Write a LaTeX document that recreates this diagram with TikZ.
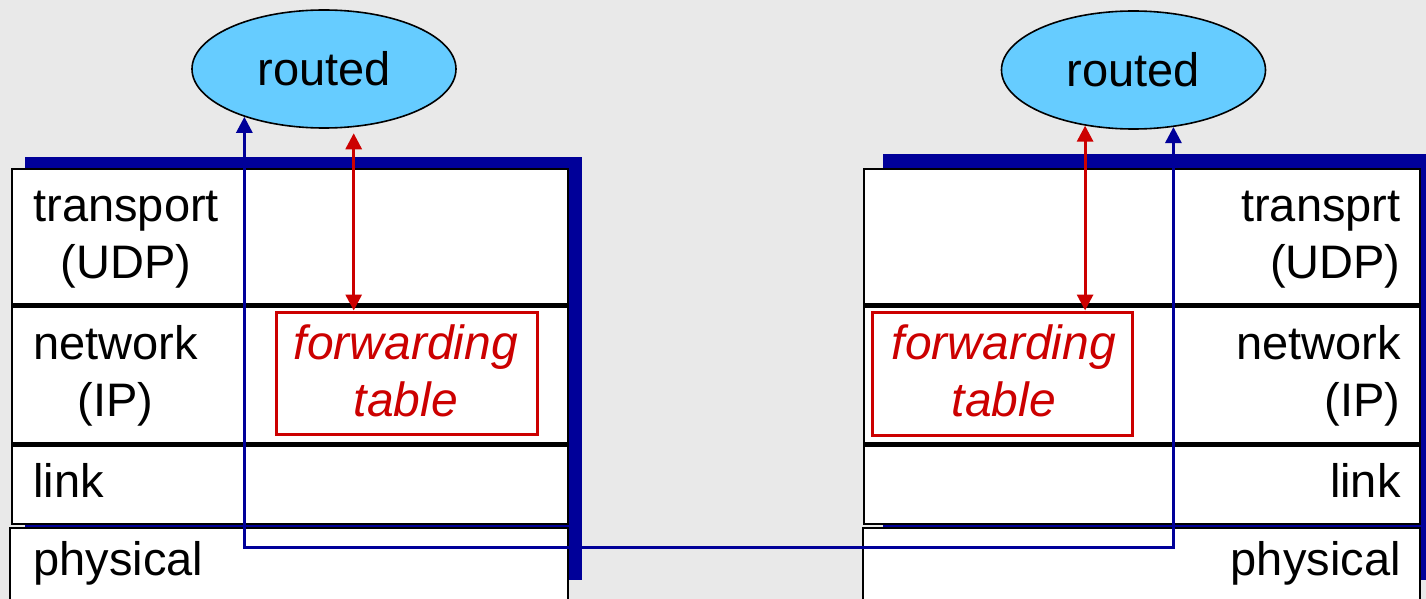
\documentclass[tikz,border=0pt]{standalone}
\usepackage{fontspec}
\setmainfont{Liberation Sans}
\usetikzlibrary{arrows.meta,positioning,shapes.geometric}

\definecolor{navy}{RGB}{0,0,153}
\definecolor{fwdred}{RGB}{204,0,0}
\definecolor{sky}{RGB}{102,204,255}
\definecolor{slide}{RGB}{233,233,233}

\tikzset{
	layer/.style={draw=black, line width=1.2pt, fill=white, minimum width=278pt, inner sep=0pt},
	lbl/.style={inner sep=0pt, font=\fontsize{23.5}{28.5}\selectfont},
	daemon/.style={ellipse, draw=black, line width=0.8pt, fill=sky, minimum width=132pt, minimum height=59pt, inner sep=0pt, font=\fontsize{23.5}{28.5}\selectfont},
	fwdbox/.style={draw=fwdred, line width=1.5pt, fill=white, inner sep=0pt},
	fwdtext/.style={lbl, text=fwdred, align=center, font=\fontsize{24}{28.5}\selectfont\itshape},
	wire/.style={draw=navy, line width=1.5pt, {Triangle[length=8pt,width=8pt]}-{Triangle[length=8pt,width=8pt]}},
	ctl/.style={draw=fwdred, line width=1.5pt, {Triangle[length=8pt,width=8pt]}-{Triangle[length=8pt,width=8pt]}}
}

\begin{document}
\begin{tikzpicture}[x=0.5pt, y=-0.5pt]
	\useasboundingbox (0,0) rectangle (1426,599);
	\fill[slide] (0,0) rectangle (1426,599);

	% shadows behind the two stacks
	\fill[navy] (25,157) rectangle (582,580);
	\fill[navy] (883,154) rectangle (1440,580);

	% left host
	\node[layer, minimum height=67.5pt]	(tl) at (290,236.5)		{};
	\node[layer, minimum height=68.5pt]	(nl) [below=0pt of tl]	{};
	\node[layer, minimum height=39pt]	(ll) [below=0pt of nl]	{};
	\node[layer, minimum height=38pt, minimum width=279pt]	(pl) [below=1pt of ll, xshift=-0.5pt]	{};

	\node[lbl, align=center, anchor=west]	(tlt) at (33,240)	{transport\\(UDP)};
	\node[lbl, align=center, anchor=west]	(nlt) at (33,376)	{network\\(IP)};
	\node[lbl, anchor=west]					(llt) at (33,480)	{link};
	\node[lbl, anchor=west]					(plt) at (33,563)	{physical};

	\node[fwdbox, minimum width=130.5pt, minimum height=61pt]	(fwd1) at (406.5,373)	{};
	\node[fwdtext]	(fwd1t) at (406,370.5)	{forwarding\\table};

	\node[daemon]	(rd1) at (324,69)	{routed};

	% right host
	\node[layer, minimum height=67.5pt]	(tr) at (1142,236.5)	{};
	\node[layer, minimum height=68.5pt]	(nr) [below=0pt of tr]	{};
	\node[layer, minimum height=39pt]	(lr) [below=0pt of nr]	{};
	\node[layer, minimum height=38pt, minimum width=278.5pt]	(pr) [below=1pt of lr, xshift=-0.25pt]	{};

	\node[lbl, align=right, anchor=east]	(trt) at (1401,240)	{transprt\\(UDP)};
	\node[lbl, align=right, anchor=east]	(nrt) at (1401,376)	{network\\(IP)};
	\node[lbl, anchor=east]					(lrt) at (1401,480)	{link};
	\node[lbl, anchor=east]					(prt) at (1401,563)	{physical};

	\node[fwdbox, minimum width=130pt, minimum height=61.5pt]	(fwd2) at (1002,373.5)	{};
	\node[fwdtext]	(fwd2t) at (1004,370.5)	{forwarding\\table};

	\node[daemon]	(rd2) at (1133.5,70)	{routed};

	% routing messages go down and across the wire
	\coordinate (bus) at (0,547);
	\path[wire] (rd1.211) |- (rd2.305 |- bus) -- (rd2.305);

	% daemons write their tables
	\path[ctl, shorten <=3pt] (rd1.297) -- (rd1.297 |- fwd1.north);
	\path[ctl] (rd2.229) -- (rd2.229 |- fwd2.north);
\end{tikzpicture}
\end{document}
